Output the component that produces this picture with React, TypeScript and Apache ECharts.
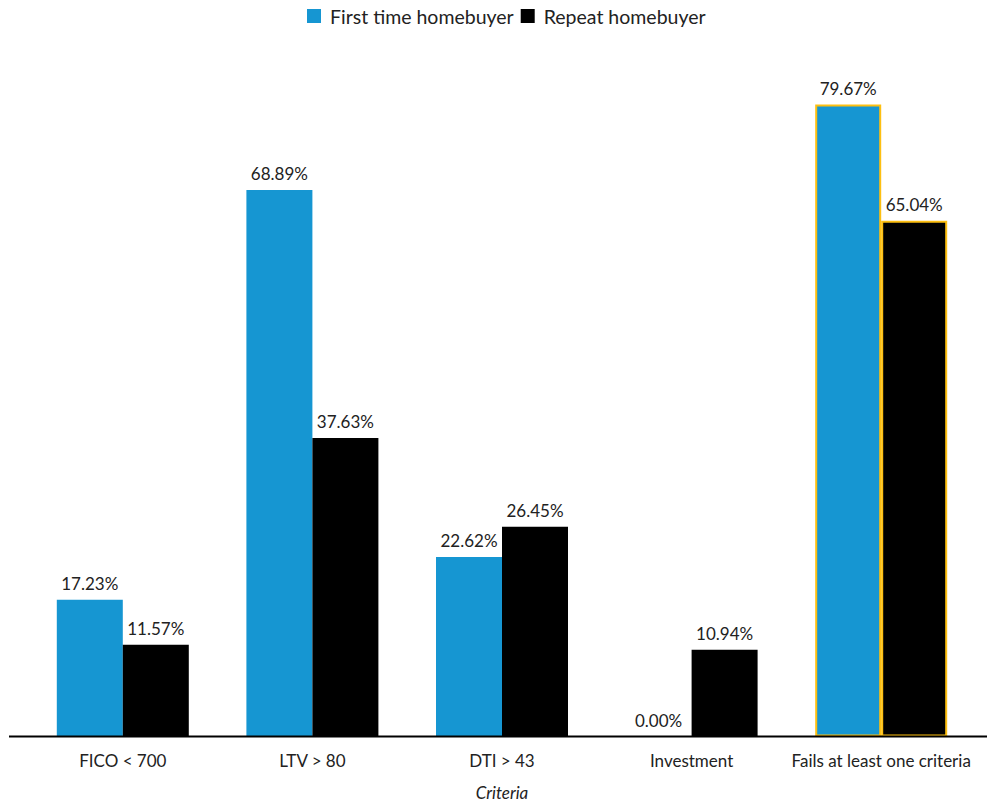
import React, { useEffect, useRef } from "react";
import * as echarts from "echarts";

const categories = ["FICO < 700", "LTV > 80", "DTI > 43", "Investment", "Fails at least one criteria"];
const firstTime = [17.23, 68.89, 22.62, 0.0, 79.67];
const repeat = [11.57, 37.63, 26.45, 10.94, 65.04];
const highlightIndex = 4;

export default function App() {
  const ref = useRef<HTMLDivElement>(null);
  useEffect(() => {
    document.body.style.margin = "0";
    const chart = echarts.init(ref.current!, undefined, { renderer: "svg" });
    const mk = (vals: number[], color: string) =>
      vals.map((v, i) =>
        i === highlightIndex
          ? { value: v, itemStyle: { color, borderColor: "#fdbf11", borderWidth: 2 } }
          : { value: v }
      );
    const label = {
      show: true,
      position: "top" as const,
      distance: 8,
      formatter: (p: any) => Number(p.value).toFixed(2) + "%",
      fontFamily: "Lato",
      fontSize: 17,
      color: "#222",
    };
    chart.setOption({
      animation: false,
      textStyle: { fontFamily: "Lato" },
      legend: {
        top: 1,
        left: 302,
        itemWidth: 14,
        itemHeight: 14,
        itemGap: 7,
        icon: "rect",
        textStyle: { fontFamily: "Lato", fontSize: 19.5, color: "#222", padding: [0, 0, 0, 4] },
      },
      grid: { left: 28, right: 11, top: 102, bottom: 65.5, outerBoundsMode: "none", containLabel: false },
      xAxis: {
        type: "category",
        data: categories,
        axisLine: { show: false },
        axisTick: { show: false },
        axisLabel: { fontFamily: "Lato", fontSize: 17, color: "#222", margin: 15, interval: 0 },
        name: "Criteria",
        nameLocation: "middle",
        nameGap: 47,
        nameTextStyle: { fontFamily: "Lato", fontSize: 17, fontStyle: "italic", color: "#222" },
      },
      yAxis: { type: "value", min: 0, max: 80, show: false, splitLine: { show: false } },
      series: [
        {
          name: "First time homebuyer",
          type: "bar",
          data: mk(firstTime, "#1696d2"),
          itemStyle: { color: "#1696d2" },
          barWidth: 66,
          barGap: "0%",
          label,
        },
        {
          name: "Repeat homebuyer",
          type: "bar",
          data: mk(repeat, "#000000"),
          itemStyle: { color: "#000000" },
          barWidth: 66,
          barGap: "0%",
          label,
        },
      ],
      graphic: [
        {
          type: "line",
          shape: { x1: 9, y1: 736.5, x2: 987, y2: 736.5 },
          style: { stroke: "#000", lineWidth: 2 },
          z: 10,
        },
      ],
    });
    return () => chart.dispose();
  }, []);
  return <div ref={ref} style={{ width: 987, height: 802 }} />;
}
